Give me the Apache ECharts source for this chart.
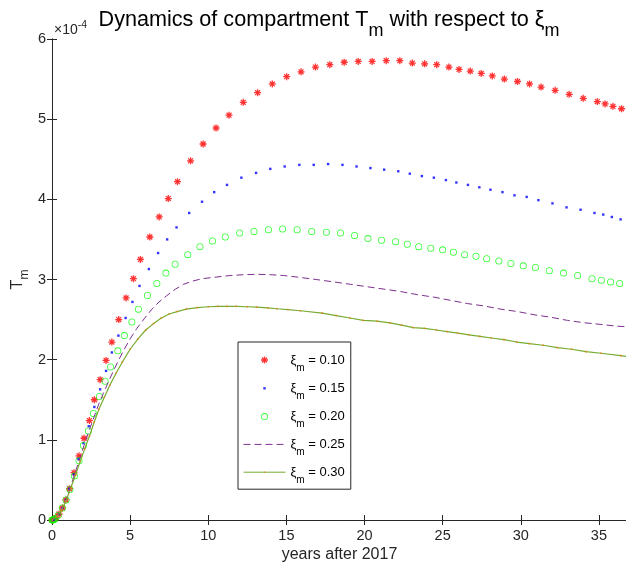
<!DOCTYPE html>
<html><head><meta charset="utf-8">
<script src="https://cdn.jsdelivr.net/npm/echarts@6/dist/echarts.min.js"></script>
<style>html,body{margin:0;padding:0;background:#fff}#c{width:626px;height:572px}</style>
</head><body><div id="c"></div>
<script>
const FONT = '"Liberation Sans", Arial, Helvetica, sans-serif';
const AX = '#262626';

// values of T_m are in units of 1e-4
const seriesNames = ['0.10', '0.15', '0.20', '0.25', '0.30'];
const xTickValues = [0, 5, 10, 15, 20, 25, 30, 35];
const yTickValues = [0, 1, 2, 3, 4, 5, 6];

const red_t = [0, 0.08, 0.16, 0.26, 0.45, 0.67, 0.89, 1.12, 1.41, 1.73, 2.05, 2.39, 2.71, 3.08, 3.46, 3.83, 4.27, 4.74, 5.21, 5.66, 6.26, 6.86, 7.44, 8.03, 8.87, 9.67, 10.50, 11.33, 12.24, 13.16, 14.10, 15.02, 15.94, 16.86, 17.78, 18.70, 19.60, 20.49, 21.39, 22.26, 23.06, 23.85, 24.62, 25.40, 26.05, 26.77, 27.47, 28.18, 28.95, 29.79, 30.56, 31.30, 32.20, 33.10, 34.00, 34.90, 35.40, 35.90, 36.45];
const red_y = [0, 0.003, 0.01, 0.03, 0.075, 0.15, 0.25, 0.39, 0.59, 0.80, 1.02, 1.24, 1.50, 1.75, 1.99, 2.22, 2.50, 2.77, 3.01, 3.25, 3.53, 3.78, 4.01, 4.22, 4.48, 4.69, 4.89, 5.05, 5.21, 5.33, 5.44, 5.53, 5.59, 5.65, 5.68, 5.71, 5.72, 5.72, 5.73, 5.73, 5.70, 5.69, 5.68, 5.65, 5.62, 5.60, 5.57, 5.54, 5.50, 5.47, 5.44, 5.40, 5.36, 5.31, 5.26, 5.22, 5.19, 5.16, 5.13];

const blue_t = [0, 0.08, 0.16, 0.26, 0.45, 0.67, 0.89, 1.11, 1.39, 1.69, 2.01, 2.35, 2.71, 3.08, 3.46, 3.83, 4.25, 4.71, 5.15, 5.60, 6.20, 6.79, 7.37, 7.97, 8.78, 9.60, 10.38, 11.20, 12.12, 13.06, 13.97, 14.89, 15.83, 16.75, 17.67, 18.59, 19.49, 20.38, 21.26, 22.16, 22.90, 23.67, 24.44, 25.21, 25.88, 26.62, 27.35, 28.06, 28.83, 29.60, 30.38, 31.13, 32.03, 32.93, 33.83, 34.72, 35.28, 35.83, 36.39];
const blue_y = [0, 0.003, 0.01, 0.03, 0.075, 0.15, 0.25, 0.39, 0.57, 0.76, 0.96, 1.17, 1.41, 1.63, 1.86, 2.09, 2.30, 2.52, 2.72, 2.92, 3.13, 3.33, 3.50, 3.65, 3.83, 3.97, 4.09, 4.18, 4.27, 4.33, 4.38, 4.41, 4.43, 4.43, 4.44, 4.43, 4.41, 4.39, 4.37, 4.35, 4.32, 4.29, 4.27, 4.24, 4.21, 4.18, 4.15, 4.12, 4.09, 4.05, 4.03, 3.99, 3.95, 3.90, 3.87, 3.83, 3.81, 3.78, 3.75];

const green_t = [0, 0.04, 0.08, 0.13, 0.2, 0.4, 0.66, 0.90, 1.15, 1.43, 1.73, 2.01, 2.33, 2.65, 3.03, 3.40, 3.75, 4.21, 4.63, 5.11, 5.53, 6.11, 6.71, 7.29, 7.88, 8.69, 9.47, 10.27, 11.09, 12.01, 12.93, 13.85, 14.76, 15.69, 16.62, 17.56, 18.46, 19.36, 20.22, 21.09, 21.99, 22.74, 23.47, 24.24, 25.00, 25.69, 26.41, 27.13, 27.82, 28.60, 29.37, 30.16, 30.94, 31.83, 32.74, 33.64, 34.56, 35.16, 35.75, 36.33];
const green_y = [0, 0.001, 0.003, 0.007, 0.015, 0.06, 0.15, 0.25, 0.38, 0.55, 0.74, 0.93, 1.11, 1.33, 1.54, 1.73, 1.91, 2.11, 2.30, 2.47, 2.63, 2.80, 2.95, 3.08, 3.19, 3.31, 3.41, 3.48, 3.53, 3.58, 3.60, 3.62, 3.63, 3.62, 3.60, 3.59, 3.58, 3.55, 3.51, 3.49, 3.47, 3.44, 3.41, 3.39, 3.37, 3.34, 3.31, 3.29, 3.26, 3.23, 3.20, 3.17, 3.15, 3.11, 3.08, 3.05, 3.01, 2.99, 2.97, 2.95];

const purple_t = [0, 0.3, 0.6, 0.9, 1.2, 1.5, 1.8, 2.1, 2.4, 2.7, 3.0, 3.29, 3.6, 3.93, 4.25, 4.57, 5.0, 5.43, 5.9, 6.35, 6.85, 7.35, 7.9, 8.42, 9.0, 9.6, 10.5, 11.4, 12.26, 13.1, 13.97, 14.8, 15.7, 16.9, 18.03, 19.1, 20.17, 21.24, 22.31, 23.4, 24.44, 25.5, 26.58, 27.65, 28.72, 29.8, 30.85, 31.9, 32.99, 34.06, 35.13, 36.0, 36.8];
const purple_y = [0, 0.04, 0.12, 0.25, 0.42, 0.60, 0.78, 0.96, 1.13, 1.29, 1.45, 1.58, 1.72, 1.86, 1.99, 2.11, 2.26, 2.39, 2.51, 2.62, 2.72, 2.80, 2.88, 2.94, 2.98, 3.01, 3.03, 3.05, 3.06, 3.065, 3.06, 3.05, 3.03, 3.00, 2.97, 2.94, 2.91, 2.88, 2.85, 2.81, 2.78, 2.74, 2.70, 2.67, 2.63, 2.60, 2.56, 2.53, 2.49, 2.46, 2.44, 2.42, 2.41];

const olive_t = [0, 0.3, 0.6, 0.9, 1.2, 1.5, 1.8, 2.1, 2.4, 2.7, 3.0, 3.35, 3.7, 4.1, 4.5, 5.0, 5.5, 6.0, 6.5, 7.0, 7.5, 8.0, 8.6, 9.3, 10.0, 10.6, 11.2, 11.8, 12.5, 13.1, 13.8, 14.4, 15.1, 15.9, 17.29, 18.19, 19.06, 19.92, 20.81, 21.62, 22.37, 23.12, 23.85, 24.60, 25.30, 25.98, 26.69, 27.39, 28.12, 28.93, 29.74, 30.56, 31.43, 32.35, 33.25, 34.17, 35.13, 36.41, 36.8];
const olive_y = [0, 0.04, 0.12, 0.24, 0.40, 0.56, 0.73, 0.89, 1.05, 1.22, 1.38, 1.53, 1.68, 1.83, 1.97, 2.13, 2.26, 2.37, 2.45, 2.52, 2.57, 2.60, 2.63, 2.65, 2.66, 2.665, 2.665, 2.665, 2.66, 2.655, 2.645, 2.635, 2.625, 2.61, 2.58, 2.55, 2.52, 2.49, 2.48, 2.46, 2.43, 2.40, 2.39, 2.37, 2.35, 2.33, 2.31, 2.29, 2.27, 2.25, 2.22, 2.20, 2.18, 2.15, 2.13, 2.10, 2.08, 2.05, 2.04];

function pairs(t, y) { return t.map((v, i) => [v, y[i]]); }

// marker glyphs (14x14 box, visible part small in the centre)
const BOX = 'M0,0M14,14';
const SYM_STAR = 'path://' + BOX +
  'M6.35,3.5L7.65,3.5L7.65,10.5L6.35,10.5Z' +
  'M3.5,6.35L10.5,6.35L10.5,7.65L3.5,7.65Z' +
  'M5.0,4.1L9.9,9.0L9.0,9.9L4.1,5.0Z' +
  'M4.1,9.0L9.0,4.1L9.9,5.0L5.0,9.9Z';
const SYM_DOT = 'path://' + BOX + 'M5.8,5.8L8.2,5.8L8.2,8.2L5.8,8.2Z';
const SYM_RING = 'path://' + BOX +
  'M3.5,7A3.5,3.5 0 1,1 10.5,7A3.5,3.5 0 1,1 3.5,7Z' +
  'M4.3,7A2.7,2.7 0 1,0 9.7,7A2.7,2.7 0 1,0 4.3,7Z';
const SYM_TINY = 'path://' + BOX + 'M6.2,6.2L7.8,6.2L7.8,7.8L6.2,7.8Z';
const SYM_NONE = 'path://M0,0M14,14';

const chart = echarts.init(document.getElementById('c'), null, { renderer: 'canvas' });

function axisBase(ticks) {
  return {
    axisLine: { show: true, lineStyle: { color: AX, width: 1 } },
    axisTick: { show: true, inside: true, length: 5, lineStyle: { color: AX }, customValues: ticks },
    splitLine: { show: false }
  };
}

chart.setOption({
  animation: false,
  backgroundColor: '#fff',
  textStyle: { fontFamily: FONT },
  grid: { left: 52, right: -1, top: 39, bottom: 52, containLabel: false, outerBoundsMode: 'none' },
  xAxis: [
    Object.assign(axisBase(xTickValues), {
      type: 'value', min: 0, max: 36.8, position: 'bottom',
      axisLabel: { fontSize: 14.5, color: AX, margin: 8, fontFamily: FONT, customValues: xTickValues },
      name: 'years after 2017', nameLocation: 'middle', nameGap: 27, nameMoveOverlap: false,
      nameTextStyle: { fontSize: 16, color: AX, fontFamily: FONT }
    }),
    Object.assign(axisBase(xTickValues), {
      type: 'value', min: 0, max: 36.8, position: 'top',
      axisLabel: { show: false }
    })
  ],
  yAxis: [
    Object.assign(axisBase(yTickValues), {
      type: 'value', min: 0, max: 6, position: 'left',
      axisLabel: { fontSize: 14.5, color: AX, margin: 6, fontFamily: FONT, customValues: yTickValues },
      name: '{n|T}{sub|m}', nameLocation: 'middle', nameGap: 21, nameRotate: 90, nameMoveOverlap: false,
      nameTextStyle: { color: AX, fontFamily: FONT,
        rich: {
          n: { fontSize: 16, lineHeight: 26, color: AX, fontFamily: FONT },
          sub: { fontSize: 12, lineHeight: 12, verticalAlign: 'bottom', color: AX, fontFamily: FONT }
        } }
    }),
    Object.assign(axisBase(yTickValues), {
      type: 'value', min: 0, max: 6, position: 'right',
      axisLabel: { show: false }
    })
  ],
  legend: {
    orient: 'vertical', left: 238, top: 342,
    padding: [11, 6, 4, 5],
    itemWidth: 42, itemHeight: 14, itemGap: 8.3,
    borderColor: AX, borderWidth: 1, backgroundColor: '#fff',
    selectedMode: false,
    lineStyle: { width: 1 },
    data: seriesNames,
    formatter: n => '{xi|ξ}{sub|m}{t| = ' + n + '}',
    textStyle: {
      fontFamily: FONT, color: '#000',
      rich: {
        xi: { fontSize: 13, lineHeight: 26, fontFamily: FONT, color: '#000' },
        sub: { fontSize: 10, lineHeight: 14, verticalAlign: 'bottom', fontFamily: FONT, color: '#000' },
        t: { fontSize: 13, lineHeight: 26, fontFamily: FONT, color: '#000' }
      }
    }
  },
  graphic: [
    {
      type: 'text', x: 329, y: 0,
      style: {
        text: '{n|Dynamics of compartment T}{sub|m}{n| with respect to }{n|ξ}{sub|m}',
        align: 'center', verticalAlign: 'top', fill: '#000',
        rich: {
          n: { fontSize: 21.6, lineHeight: 40, fontFamily: FONT, fill: '#000', color: '#000' },
          sub: { fontSize: 18, lineHeight: 13, verticalAlign: 'bottom', fontFamily: FONT, fill: '#000', color: '#000' }
        }
      }
    },
    {
      type: 'text', x: 54, y: 20,
      style: {
        text: '{n|×10}{sup|-4}',
        align: 'left', verticalAlign: 'top',
        rich: {
          n: { fontSize: 14, lineHeight: 20, fontFamily: FONT, fill: AX, color: AX },
          sup: { fontSize: 10.5, lineHeight: 10, verticalAlign: 'top', fontFamily: FONT, fill: AX, color: AX }
        }
      }
    }
  ],
  series: [
    { name: seriesNames[0], type: 'scatter', data: pairs(red_t, red_y), symbol: SYM_STAR, symbolSize: 14,
      itemStyle: { color: '#FF0000' } },
    { name: seriesNames[1], type: 'scatter', data: pairs(blue_t, blue_y), symbol: SYM_DOT, symbolSize: 14,
      itemStyle: { color: '#0000FF' } },
    { name: seriesNames[2], type: 'scatter', data: pairs(green_t, green_y), symbol: SYM_RING, symbolSize: 14,
      itemStyle: { color: '#00FF00' } },
    { name: seriesNames[3], type: 'line', data: pairs(purple_t, purple_y), symbol: SYM_NONE, symbolSize: 14, showSymbol: false,
      itemStyle: { color: '#7E2F8E' },
      lineStyle: { color: '#7E2F8E', width: 1, type: [7, 4] } },
    { name: seriesNames[4], type: 'line', data: pairs(olive_t, olive_y), symbol: SYM_TINY, symbolSize: 14, showSymbol: true,
      itemStyle: { color: '#D9891E' },
      lineStyle: { color: '#77AC30', width: 1.2 } }
  ]
});
</script></body></html>
